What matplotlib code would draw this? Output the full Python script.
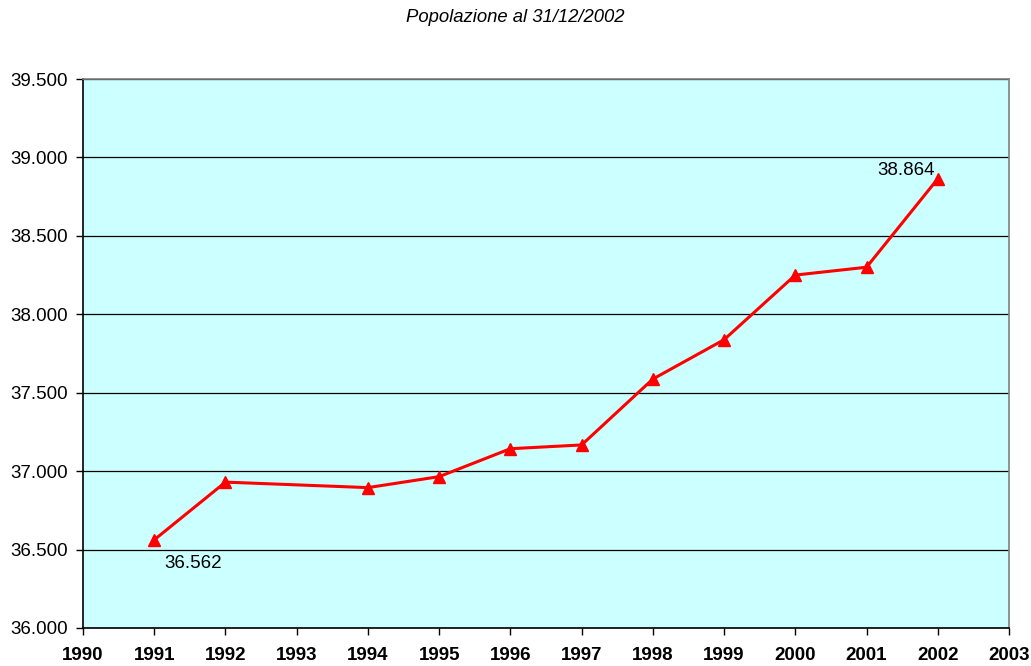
import matplotlib
matplotlib.use('Agg')
from matplotlib import pyplot as plt
from matplotlib.ticker import FuncFormatter

# popolazione residente al 31/12 di ogni anno (1993 manca)
anni = [1991, 1992, 1994, 1995, 1996, 1997, 1998, 1999, 2000, 2001, 2002]
popolazione = [36562, 36930, 36895, 36965, 37143, 37167, 37587, 37838, 38250, 38300, 38864]

titolo = 'Popolazione al 31/12/2002'
y_ticks = [36000, 36500, 37000, 37500, 38000, 38500, 39000, 39500]
x_ticks = list(range(1990, 2004))

plt.rcParams['font.family'] = ['Liberation Sans', 'DejaVu Sans']

fig = plt.figure(figsize=(10.31, 6.66), dpi=100)
ax = fig.add_axes([83/1031, 38/666, (1009-83)/1031, (628-79)/666])
ax.set_facecolor('#CCFFFF')

ax.plot(anni, popolazione, color='#FF0000', lw=2.2, marker='^', markersize=8,
        markeredgecolor='#FF0000', zorder=3)

ax.set_xlim(1990, 2003)
ax.set_ylim(36000, 39500)
ax.set_xticks(x_ticks)
ax.set_yticks(y_ticks)
ax.yaxis.set_major_formatter(FuncFormatter(lambda v, p: '{:,.3f}'.format(v / 1000).replace(',', '.')))
ax.grid(axis='y', color='black', lw=0.9)
ax.set_axisbelow(True)

for lab in ax.get_xticklabels():
    lab.set_fontweight('bold')
ax.tick_params(axis='x', labelsize=13.5, length=5, width=1, direction='out', pad=9)
ax.tick_params(axis='y', labelsize=13.5, length=5, width=1, direction='out', pad=6)

ax.spines['left'].set_color('black')
ax.spines['bottom'].set_color('black')
ax.spines['top'].set_color('#808080')
ax.spines['right'].set_color('#808080')
for s in ax.spines.values():
    s.set_linewidth(1.2)

# etichette primo e ultimo valore
ax.annotate('36.562', (anni[0], popolazione[0]), xytext=(7, -17), textcoords='offset points',
            fontsize=13.5, ha='left', va='center')
ax.annotate('38.864', (anni[-1], popolazione[-1]), xytext=(-2, 6), textcoords='offset points',
            fontsize=13.5, ha='right', va='center')

fig.text(0.5, 1 - 18/666, titolo, ha='center', va='center', fontsize=13.3, style='italic')

plt.savefig('out.png', dpi=100)
